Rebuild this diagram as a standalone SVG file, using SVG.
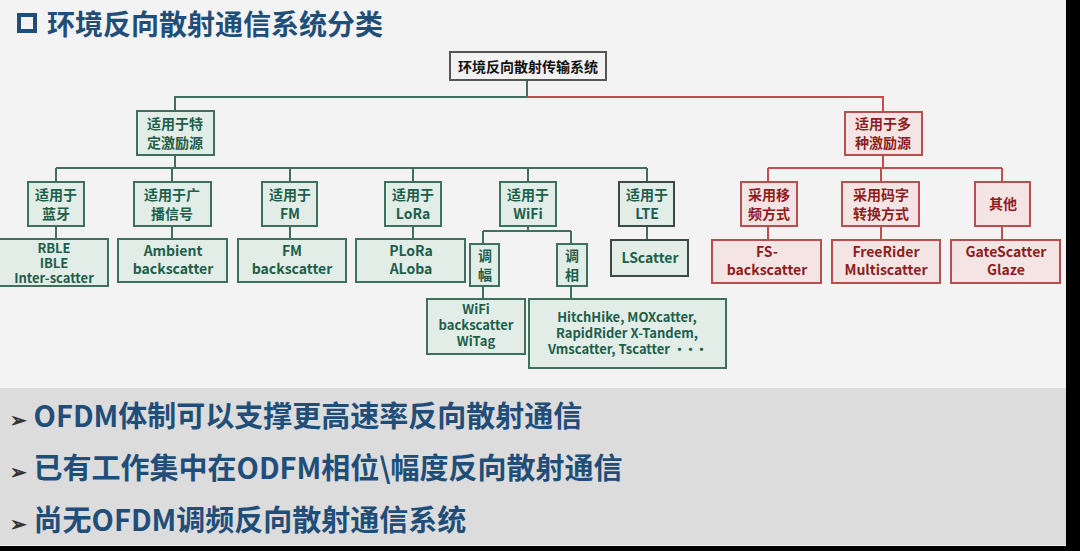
<svg xmlns="http://www.w3.org/2000/svg" width="1080" height="551" viewBox="0 0 1080 551">
<style>
text{font-family:"Noto Sans CJK SC","Noto Sans",sans-serif;font-weight:bold;text-anchor:middle}
.g rect{fill:#e2ede8;stroke:#3f6f5f;stroke-width:2}
.g text{fill:#1e5e4a;font-size:14px}
.d rect{fill:#e2ede8;stroke:#3a4a44;stroke-width:2}
.d text{fill:#1e5e4a;font-size:14px}
.r rect{fill:#f4e4e4;stroke:#b5504f;stroke-width:2}
.r text{fill:#8e1e1e;font-size:14px}
.g text.s{font-size:13px}
.gl{stroke:#3f6f5f;stroke-width:2;fill:none}
.rl{stroke:#c0504d;stroke-width:2;fill:none}
.b{fill:#1f4e79;font-size:29px;text-anchor:start}
</style>
<rect width="1080" height="551" fill="#000"/>
<rect width="1066" height="546" fill="#f3f3f3"/>
<rect x="0" y="388" width="1066" height="157" fill="#dcdcdc"/>
<rect x="19" y="15" width="16" height="16" fill="none" stroke="#1f4e79" stroke-width="4"/>
<text x="47" y="35" style="fill:#1f4e79;font-size:28px;text-anchor:start">环境反向散射通信系统分类</text>
<g id="connectors">
<path class="gl" d="M527 80V97H175V111M175 155V168M56 168H647M56 168V182M172 168V182M290 168V182M413 168V182M528 168V182M647 168V182M56 226V239M172 226V239M290 226V239M413 226V239M647 226V240M528 226V231M483 231H571M483 231V244M571 231V244M483 286V299M571 286V299"/>
<path class="rl" d="M527 97H883V112M883 155V168M768 168H1002M768 168V182M881 168V182M1002 168V182M768 226V240M881 226V240M1002 226V240"/>
</g>
<g id="root"><rect x="450" y="52" width="156" height="28" fill="#f2f2f2" stroke="#555" stroke-width="2"/><text x="528" y="72" font-size="14" fill="#111">环境反向散射传输系统</text></g>
<g id="n1" class="g"><rect x="137" y="111" width="77" height="44"/><text x="175" y="129">适用于特</text><text x="175" y="148">定激励源</text></g>
<g id="n2" class="r"><rect x="845" y="112" width="77" height="43"/><text x="883" y="129">适用于多</text><text x="883" y="148">种激励源</text></g>
<g id="n3" class="g"><rect x="28" y="182" width="56" height="44"/><text x="56" y="200">适用于</text><text x="56" y="219">蓝牙</text></g>
<g id="n4" class="g"><rect x="134" y="182" width="77" height="44"/><text x="172" y="200">适用于广</text><text x="172" y="219">播信号</text></g>
<g id="n5" class="g"><rect x="262" y="182" width="55" height="44"/><text x="290" y="200">适用于</text><text x="290" y="219">FM</text></g>
<g id="n6" class="g"><rect x="385" y="182" width="56" height="44"/><text x="413" y="200">适用于</text><text x="413" y="219">LoRa</text></g>
<g id="n7" class="g"><rect x="500" y="182" width="56" height="44"/><text x="528" y="200">适用于</text><text x="528" y="219">WiFi</text></g>
<g id="n8" class="d"><rect x="619" y="182" width="55" height="44"/><text x="647" y="200">适用于</text><text x="647" y="219">LTE</text></g>
<g id="n9" class="r"><rect x="741" y="182" width="56" height="44"/><text x="769" y="200">采用移</text><text x="769" y="219">频方式</text></g>
<g id="n10" class="r"><rect x="842" y="182" width="77" height="44"/><text x="881" y="200">采用码字</text><text x="881" y="219">转换方式</text></g>
<g id="n11" class="r"><rect x="975" y="182" width="55" height="44"/><text x="1003" y="209">其他</text></g>
<g id="n12" class="g"><rect x="-1" y="239" width="109" height="47"/><text class="s" x="54" y="253">RBLE</text><text class="s" x="54" y="268">IBLE</text><text class="s" x="54" y="283">Inter-scatter</text></g>
<g id="n13" class="g"><rect x="118" y="239" width="109" height="43"/><text x="173" y="256">Ambient</text><text x="173" y="274">backscatter</text></g>
<g id="n14" class="g"><rect x="238" y="239" width="108" height="43"/><text x="292" y="256">FM</text><text x="292" y="274">backscatter</text></g>
<g id="n15" class="g"><rect x="356" y="239" width="109" height="43"/><text x="411" y="256">PLoRa</text><text x="411" y="274">ALoba</text></g>
<g id="n16" class="d"><rect x="611" y="240" width="77" height="36"/><text x="650" y="263">LScatter</text></g>
<g id="n17" class="r"><rect x="712" y="240" width="109" height="43"/><text x="767" y="257">FS-</text><text x="767" y="275">backscatter</text></g>
<g id="n18" class="r"><rect x="832" y="240" width="108" height="43"/><text x="886" y="257">FreeRider</text><text x="886" y="275">Multiscatter</text></g>
<g id="n19" class="r"><rect x="951" y="240" width="109" height="43"/><text x="1006" y="257">GateScatter</text><text x="1006" y="275">Glaze</text></g>
<g id="n20" class="g"><rect x="470" y="244" width="29" height="42"/><text x="485" y="261">调</text><text x="485" y="280">幅</text></g>
<g id="n21" class="g"><rect x="557" y="244" width="30" height="42"/><text x="572" y="261">调</text><text x="572" y="280">相</text></g>
<g id="n22" class="g"><rect x="427" y="299" width="98" height="55"/><text class="s" x="476" y="314">WiFi</text><text class="s" x="476" y="330">backscatter</text><text class="s" x="476" y="346">WiTag</text></g>
<g id="n23" class="g"><rect x="529" y="299" width="197" height="69"/><text class="s" x="627" y="322">HitchHike, MOXcatter,</text><text class="s" x="627" y="338">RapidRider X-Tandem,</text><text class="s" x="627" y="354">Vmscatter, Tscatter <tspan letter-spacing="-2">•••</tspan></text></g>
<text class="b" x="10" y="427"><tspan font-size="20" fill="#333">➢</tspan> OFDM体制可以支撑更高速率反向散射通信</text>
<text class="b" x="10" y="479"><tspan font-size="20" fill="#333">➢</tspan> 已有工作集中在ODFM相位\幅度反向散射通信</text>
<text class="b" x="10" y="531"><tspan font-size="20" fill="#333">➢</tspan> 尚无OFDM调频反向散射通信系统</text>
</svg>
